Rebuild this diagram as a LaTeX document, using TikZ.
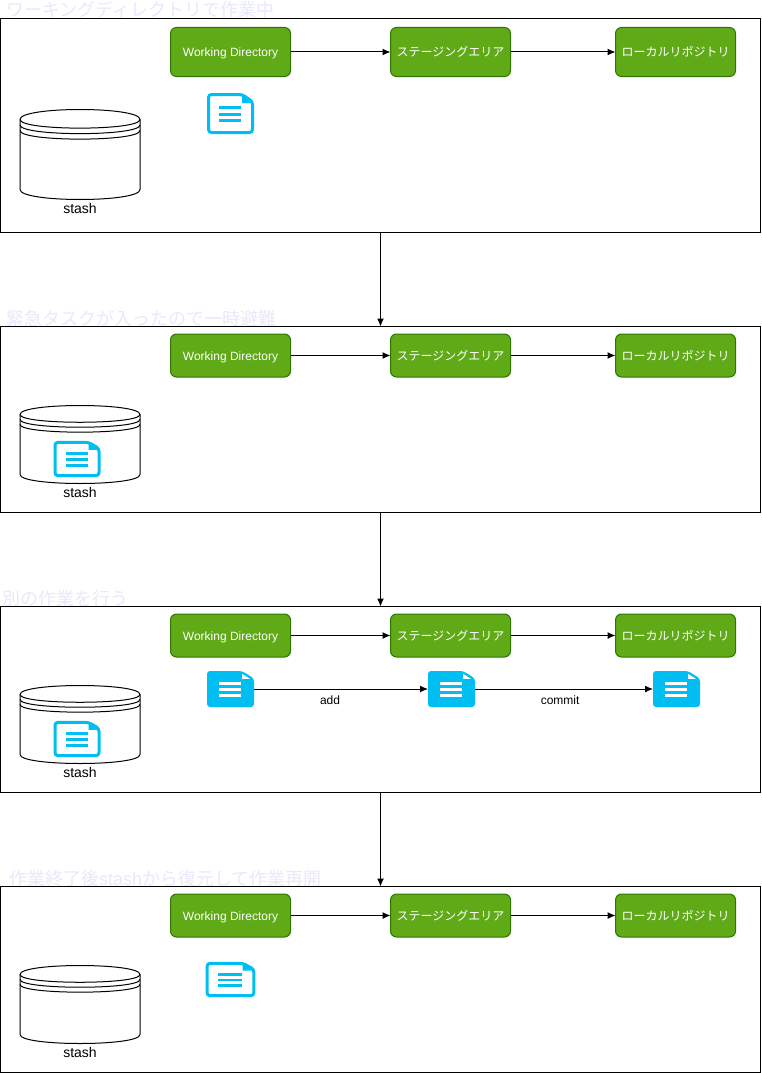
\documentclass[tikz,border=0pt]{standalone}
\usepackage{fontspec}
\setmainfont{Liberation Sans}
\newfontfamily\jpfont{Noto Sans CJK JP}
\newfontfamily\titlelatin{Liberation Sans}
\usepackage{xcolor}
\usepackage{tikz}
\usetikzlibrary{arrows.meta}

\definecolor{boxgreen}{HTML}{60A917}
\definecolor{boxedge}{HTML}{2D7600}
\definecolor{doccyan}{HTML}{00BEF2}
\definecolor{titlefade}{HTML}{E8E9FB}

\tikzset{
	frame/.style={draw, line width=1pt, inner sep=0pt, outer sep=0pt, minimum width=760pt, anchor=north west},
	greenbox/.style={draw=boxedge, fill=boxgreen, text=white, rounded corners=6pt, line width=1pt, inner sep=0pt, outer sep=0pt, minimum width=120pt, anchor=north west, text height=10.5pt, text depth=1.5pt, font=\fontsize{12}{14}\selectfont},
	paneltitle/.style={anchor=west, inner sep=0pt, text=titlefade, font=\fontsize{18}{20}\selectfont\jpfont},
	stashtext/.style={inner sep=0pt, font=\fontsize{14}{16}\selectfont},
	smalltext/.style={inner sep=0pt, font=\fontsize{12}{14}\selectfont},
	arrowline/.style={line width=1pt, -{Latex[length=8pt,width=7pt]}},
	docnode/.style={inner sep=0pt, outer sep=0pt, anchor=north west}
}

\newcommand{\stashdb}[4]{
	\begin{scope}[shift={(20,#2)}]
		\path[draw, line width=1pt, fill=white] (0,#3) .. controls (0,-#3/3) and (120,-#3/3) .. (120,#3) -- (120,#4-#3) .. controls (120,#4+#3/3) and (0,#4+#3/3) .. (0,#4-#3) -- cycle;
		\draw[line width=1pt] (0,#3) .. controls (0,#3*2.15) and (120,#3*2.15) .. (120,#3);
		\draw[line width=1pt] (0,#3*1.55) .. controls (0,#3*2.7) and (120,#3*2.7) .. (120,#3*1.55);
		\draw[line width=1pt] (0,#3*2.1) .. controls (0,#3*3.25) and (120,#3*3.25) .. (120,#3*2.1);
	\end{scope}
	\node[docnode, minimum width=120pt, minimum height=#4pt] (#1) at (20,#2) {};
}

\newcommand{\docoutline}[5]{
	\node[docnode, minimum width=#4pt, minimum height=#5pt] (#1) at (#2,#3) {};
	\begin{scope}[shift={(#2,#3)}, xscale=#4/47, yscale=#5/41]
		\draw[doccyan, line width=3pt, fill=white, rounded corners=3pt] (1.5,1.5) -- (35,1.5) -- (45.5,8.5) -- (45.5,39.5) -- (1.5,39.5) -- cycle;
		\fill[doccyan] (35,2) -- (45,8.5) -- (45,10) -- (35,10) -- cycle;
		\fill[doccyan] (12,13) rectangle (34,16.2);
		\fill[doccyan] (12,19.5) rectangle (34,22.7);
		\fill[doccyan] (12,26) rectangle (34,29.2);
	\end{scope}
}

\newcommand{\docfilled}[5]{
	\node[docnode, minimum width=#4pt, minimum height=#5pt] (#1) at (#2,#3) {};
	\begin{scope}[shift={(#2,#3)}, xscale=#4/47, yscale=#5/41]
		\fill[doccyan, rounded corners=3pt] (0,0) -- (35,0) -- (47,8.5) -- (47,41) -- (0,41) -- cycle;
		\fill[white] (35,3.2) -- (43,9) -- (35,9) -- cycle;
		\fill[white] (12,13) rectangle (34,16.2);
		\fill[white] (12,19.5) rectangle (34,22.7);
		\fill[white] (12,26) rectangle (34,29.2);
	\end{scope}
}

\begin{document}
\begin{tikzpicture}[x=1pt, y=-1pt]
	\useasboundingbox[fill=white] (0,0) rectangle (761,1073);

	\node[paneltitle] (titleA) at (6,9.5) {ワーキングディレクトリで作業中};
	\node[paneltitle] (titleB) at (6,318.5) {緊急タスクが入ったので一時避難};
	\node[paneltitle] (titleC) at (2,598.5) {別の作業を行う};
	\node[paneltitle] (titleD) at (9,878.5) {作業終了後{\titlelatin stash}から復元して作業再開};

	\node[frame, minimum height=213pt] (frameA) at (0.5,19) {};
	\node[frame, minimum height=185.5pt] (frameB) at (0.5,326.5) {};
	\node[frame, minimum height=185.5pt] (frameC) at (0.5,606.5) {};
	\node[frame, minimum height=185.5pt] (frameD) at (0.5,886.5) {};

	\draw[arrowline] (frameA.south) -- (frameB.north);
	\draw[arrowline] (frameB.south) -- (frameC.north);
	\draw[arrowline] (frameC.south) -- (frameD.north);

	\node[greenbox, minimum height=49pt] (workA) at (170.5,27.5) {Working Directory};
	\node[greenbox, minimum height=49pt] (stageA) at (390.5,27.5) {\jpfont ステージングエリア};
	\node[greenbox, minimum height=49pt] (repoA) at (615.5,27.5) {\jpfont ローカルリポジトリ};
	\draw[arrowline] (workA) -- (stageA);
	\draw[arrowline] (stageA) -- (repoA);

	\node[greenbox, minimum height=43pt] (workB) at (170.5,334) {Working Directory};
	\node[greenbox, minimum height=43pt] (stageB) at (390.5,334) {\jpfont ステージングエリア};
	\node[greenbox, minimum height=43pt] (repoB) at (615.5,334) {\jpfont ローカルリポジトリ};
	\draw[arrowline] (workB) -- (stageB);
	\draw[arrowline] (stageB) -- (repoB);

	\node[greenbox, minimum height=43pt] (workC) at (170.5,614) {Working Directory};
	\node[greenbox, minimum height=43pt] (stageC) at (390.5,614) {\jpfont ステージングエリア};
	\node[greenbox, minimum height=43pt] (repoC) at (615.5,614) {\jpfont ローカルリポジトリ};
	\draw[arrowline] (workC) -- (stageC);
	\draw[arrowline] (stageC) -- (repoC);

	\node[greenbox, minimum height=43pt] (workD) at (170.5,894) {Working Directory};
	\node[greenbox, minimum height=43pt] (stageD) at (390.5,894) {\jpfont ステージングエリア};
	\node[greenbox, minimum height=43pt] (repoD) at (615.5,894) {\jpfont ローカルリポジトリ};
	\draw[arrowline] (workD) -- (stageD);
	\draw[arrowline] (stageD) -- (repoD);

	\stashdb{stashA}{109.5}{10}{90}
	\stashdb{stashB}{405.5}{9}{78}
	\stashdb{stashC}{685.5}{9}{78}
	\stashdb{stashD}{965.5}{9}{78}

	\node[stashtext] (stashlabelA) at (80,208.5) {stash};
	\node[stashtext] (stashlabelB) at (80,492.5) {stash};
	\node[stashtext] (stashlabelC) at (80,772.5) {stash};
	\node[stashtext] (stashlabelD) at (80,1052.5) {stash};

	\docoutline{docA}{207}{93}{47}{41}
	\docoutline{docB}{53.5}{441}{47}{36}
	\docoutline{docC}{53.5}{721}{47}{36}
	\docoutline{docD}{205.5}{962}{50}{35}

	\docfilled{fileA}{207}{671}{47}{36}
	\docfilled{fileB}{428}{671}{47}{36}
	\docfilled{fileC}{653}{671}{47}{36}
	\draw[arrowline] (fileA) -- node[pos=0.437, yshift=-11pt, smalltext] (addlabel) {add} (fileB);
	\draw[arrowline] (fileB) -- node[pos=0.478, yshift=-11pt, smalltext] (commitlabel) {commit} (fileC);
\end{tikzpicture}
\end{document}
